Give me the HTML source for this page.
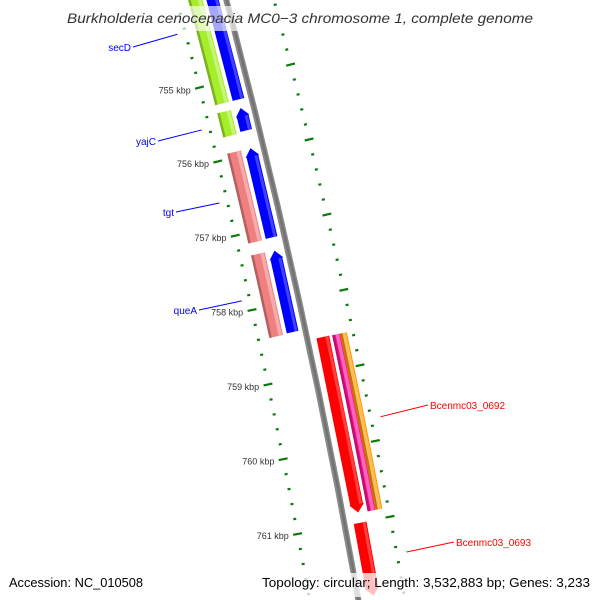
<!DOCTYPE html>
<html><head><meta charset="utf-8"><style>
html,body{margin:0;padding:0;background:#fff;width:600px;height:600px;overflow:hidden;}
svg{display:block;overflow:hidden;}
text{font-family:"Liberation Sans","DejaVu Sans",sans-serif;}
</style></head><body>
<svg id="map" width="600" height="600" viewBox="0 0 600 600" xmlns="http://www.w3.org/2000/svg">
<defs><clipPath id="frame"><rect x="0" y="0" width="600" height="600"/></clipPath></defs>
<g clip-path="url(#frame)">
<g id="ticks"></g>
<g id="backbone"></g>
<g id="features"></g>
<g id="labels"></g>
</g>
<rect x="62" y="6" width="476" height="25" fill="#fff" opacity="0.65"/>
<text x="300" y="23" text-anchor="middle" font-style="italic" font-size="14" fill="#333" textLength="466" lengthAdjust="spacingAndGlyphs">Burkholderia cenocepacia MC0−3 chromosome 1, complete genome</text>
<rect x="4" y="573" width="144" height="24" fill="#fff" opacity="0.75"/>
<rect x="258" y="573" width="338" height="24" fill="#fff" opacity="0.75"/>
<text x="9" y="587" font-size="13" fill="#000" textLength="134" lengthAdjust="spacingAndGlyphs">Accession: NC_010508</text>
<text x="262" y="587" font-size="13" fill="#000" textLength="328" lengthAdjust="spacingAndGlyphs">Topology: circular; Length: 3,532,883 bp; Genes: 3,233</text>
</svg>
<script>
// ---- data ----
const geneStarts = [753200, 753200, 755385, 755390, 755930, 755930, 757300, 757305, 758541, 758545, 758545, 761007];
const geneEnds   = [755275, 755275, 755710, 755693, 757139, 757130, 758407, 758395, 760870, 760878, 760878, 761970];
const geneStrands= [0, -1, 0, -1, 0, -1, 0, -1, 1, 0, 0, 1];
const geneTracks = ['outerLeft','blue','outerLeft','blue','outerLeft','blue','outerLeft','blue','red','magenta','orange','red'];
const geneColors = ['#a6ee2c','#0000ff','#a6ee2c','#0000ff','#f08080','#0000ff','#f08080','#0000ff','#ff0000','#ff1493','#ff9900','#ff0000'];
const geneNames  = ['secD','secD-cds','yajC','yajC-cds','tgt','tgt-cds','queA','queA-cds','Bcenmc03_0692','Bcenmc03_0692-b','Bcenmc03_0692-c','Bcenmc03_0693'];
const majorTicks = [755000, 756000, 757000, 758000, 759000, 760000, 761000];
const tickLabels = ['755 kbp','756 kbp','757 kbp','758 kbp','759 kbp','760 kbp','761 kbp'];
const minorStart = 754000, minorEnd = 762000, minorStep = 200;
const leftLabels = ['secD','yajC','tgt','queA'];
const leftLabelGenes = [0, 2, 4, 6];
const rightLabels = ['Bcenmc03_0692','Bcenmc03_0693'];
const rightLabelGenes = [8, 11];

// ---- geometry ----
const CX = -6929.5, CY = 1888.9, PHI0 = -0.2475, K = 1.0363e-5;
const TRACK = {outerLeft:[7364,7378], blue:[7382,7394], red:[7410,7423], magenta:[7426,7434], orange:[7434,7441]};
const NS = 'http://www.w3.org/2000/svg';
function pt(b, r){ const f = PHI0 + (b - 755000) * K; return [CX + r*Math.cos(f), CY + r*Math.sin(f)]; }
function mk(tag, attrs, parent){ const e = document.createElementNS(NS, tag); for (const k in attrs) e.setAttribute(k, attrs[k]); parent.appendChild(e); return e; }
function band(b0, b1, r0, r1){
  const pts = []; const n = 12;
  for (let i=0;i<=n;i++) pts.push(pt(b0+(b1-b0)*i/n, r1));
  for (let i=n;i>=0;i--) pts.push(pt(b0+(b1-b0)*i/n, r0));
  return pts.map(p=>p[0].toFixed(2)+','+p[1].toFixed(2)).join(' ');
}
function arrowShape(b0, b1, r0, r1, strand){
  const head = 110; const rm = (r0+r1)/2; const pts=[];
  if (strand === 1){
    const be = b1 - head;
    [[b0,r0],[be,r0],[be,r0-1],[b1,rm],[be,r1+1],[be,r1],[b0,r1]].forEach(q=>pts.push(pt(q[0],q[1])));
  } else {
    const bs = b0 + head;
    [[b1,r0],[bs,r0],[bs,r0-1],[b0,rm],[bs,r1+1],[bs,r1],[b1,r1]].forEach(q=>pts.push(pt(q[0],q[1])));
  }
  return pts.map(p=>p[0].toFixed(2)+','+p[1].toFixed(2)).join(' ');
}
function shade(c, f){
  const n = parseInt(c.slice(1),16); let r=n>>16, g=(n>>8)&255, b=n&255;
  if (f>0){ r+= (255-r)*f; g+=(255-g)*f; b+=(255-b)*f; } else { r*=1+f; g*=1+f; b*=1+f; }
  return 'rgb('+Math.round(r)+','+Math.round(g)+','+Math.round(b)+')';
}

// ---- ticks ----
const tg = document.getElementById('ticks');
[7353, 7447].forEach(function(R, ri){
  for (let b = minorStart; b <= minorEnd; b += minorStep){
    const major = majorTicks.indexOf(b) >= 0;
    const L = major ? 4.5 : 1.5;
    const a = pt(b, R - L), c = pt(b, R + L);
    const ln = mk('line', {x1:a[0],y1:a[1],x2:c[0],y2:c[1],stroke:'#0a7a0a','stroke-width':2.2}, tg);
    
    
  }
});
majorTicks.forEach(function(b, i){
  const p = pt(b, 7353 - 9);
  const t = mk('text', {x:p[0], y:p[1]+3.5, 'text-anchor':'end', 'font-size':9, fill:'#333'}, tg);
  t.textContent = tickLabels[i];
  
  
});

// ---- backbone ----
const bg = document.getElementById('backbone');
const bb = mk('polygon', {points: band(748000, 763000, 7398, 7404), fill:'#8a8a8a'}, bg);


const bb2 = mk('polygon', {points: band(748000, 763000, 7400, 7402.5), fill:'#737373'}, bg);



// ---- features ----
const fg = document.getElementById('features');
for (let i=0;i<geneStarts.length;i++){
  const tr = TRACK[geneTracks[i]], r0 = tr[0], r1 = tr[1], b0 = geneStarts[i], b1 = geneEnds[i], s = geneStrands[i];
  const g = mk('g', {}, fg);
  
  
  const shape = s === 0 ? band(b0,b1,r0,r1) : arrowShape(b0,b1,r0,r1,s);
  mk('polygon', {points: shape, fill: geneColors[i]}, g);
  if (s === 0){
    mk('polygon', {points: band(b0,b1,r0,r0+2.5), fill: shade(geneColors[i], -0.25)}, g);
    mk('polygon', {points: band(b0,b1,r1-4.5,r1-1), fill: shade(geneColors[i], 0.35)}, g);
  } else {
    const h = 110; const c0 = s===1 ? b0 : b0+h, c1 = s===1 ? b1-h : b1;
    mk('polygon', {points: band(c0,c1,r1-4,r1-1), fill: shade(geneColors[i], 0.25)}, g);
  }
}

// ---- labels ----
const lg = document.getElementById('labels');
const leftPos = [[131,51],[156,145],[174,216],[197,314]];
leftLabels.forEach(function(name, i){
  const gi = leftLabelGenes[i];
  const bm = i===0 ? 754250 : (geneStarts[gi]+geneEnds[gi])/2;
  const a = pt(bm, 7345);
  const ln = mk('line', {x1:leftPos[i][0]+2, y1:leftPos[i][1]-4, x2:a[0], y2:a[1], stroke:'#0000ff', 'stroke-width':1}, lg);
  
  
  const t = mk('text', {x:leftPos[i][0], y:leftPos[i][1], 'text-anchor':'end', 'font-size':10, fill:'#0000ff'}, lg);
  t.textContent = name;
  
  
});
const rightPos = [[430,409],[456,546]];
rightLabels.forEach(function(name, i){
  const gi = rightLabelGenes[i];
  const a = pt((geneStarts[gi]+geneEnds[gi])/2, 7457);
  const ln = mk('line', {x1:a[0], y1:a[1], x2:rightPos[i][0]-2, y2:rightPos[i][1]-4, stroke:'#ff0000', 'stroke-width':1}, lg);
  
  
  const t = mk('text', {x:rightPos[i][0], y:rightPos[i][1], 'font-size':10, fill:'#ff0000'}, lg);
  t.textContent = name;
  
  
});
</script>
</body></html>
